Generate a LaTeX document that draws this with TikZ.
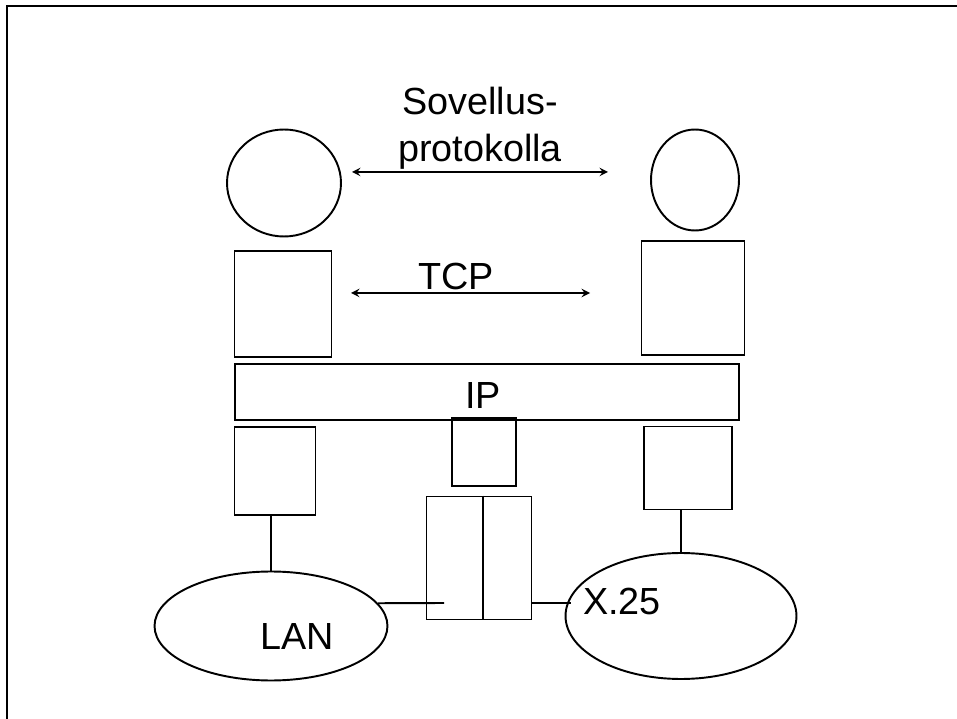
\documentclass[tikz,border=0pt]{standalone}
\usepackage{fontspec}
\setmainfont{Liberation Sans}
\usetikzlibrary{shapes.geometric}

\begin{document}
\begin{tikzpicture}
            [x=0.02cm, y=-0.02cm, >=stealth, line width=1.1pt,
             box/.style={shape=rectangle, draw=black, inner sep=0pt},
             oval/.style={shape=ellipse, draw=black, inner sep=0pt},
             lbl/.style={inner sep=0pt, font=\fontsize{21.5}{27}\selectfont}]
            \useasboundingbox (0,0) rectangle (957,719);
            \draw[line width=1.7pt] (7,6) rectangle (990,750);

            \node[oval, minimum width=2.28cm, minimum height=2.14cm] (lhost) at (284,183) {};
            \node[oval, minimum width=1.76cm, minimum height=2.02cm] (rhost) at (695,180) {};
            \node[box, minimum width=1.94cm, minimum height=2.12cm] (ltcp) at (283,304) {};
            \node[box, minimum width=2.06cm, minimum height=2.28cm] (rtcp) at (693,298) {};
            \node[box, minimum width=10.1cm, minimum height=1.12cm] (ipbar) at (487,392) {};
            \node[box, minimum width=1.62cm, minimum height=1.76cm] (lnet) at (275,471) {};
            \node[box, minimum width=1.28cm, minimum height=1.36cm] (gwip) at (484,452) {};
            \node[box, minimum width=2.1cm, minimum height=2.46cm] (gw) at (479,558) {};
            \node[box, minimum width=1.76cm, minimum height=1.66cm] (rnet) at (688,468) {};
            \node[oval, minimum width=4.66cm, minimum height=2.18cm] (lan) at (271,626) {};
            \node[oval, minimum width=4.62cm, minimum height=2.52cm] (x25) at (681,616) {};

            \node[lbl, align=center, anchor=north] (apptext) at (480,86) {Sovellus-\\protokolla};
            \node[lbl, anchor=base] (tcptext) at (456,290) {TCP};
            \node[lbl, anchor=base] (iptext) at (483,409) {IP};
            \node[lbl, anchor=base] (lantext) at (297,649) {LAN};
            \node[lbl, anchor=base] (x25text) at (622,614) {X.25};

            \coordinate (appL) at (352,172);
            \coordinate (appR) at (608,172);
            \coordinate (tcpL) at (351,293);
            \coordinate (tcpR) at (590,293);
            \coordinate (lanport) at (444,603);
            \coordinate (x25port) at (571,603);

            \draw[<->] (appL) -- (appR);
            \draw[<->] (tcpL) -- (tcpR);
            \draw ([xshift=0.08cm]gw.north) -- ([xshift=0.08cm]gw.south);
            \draw (lnet.south -| lan.north) -- (lan.north);
            \draw (x25.north |- rnet.south) -- (x25.north);
            \draw (lan.12) -- (lanport);
            \draw (gw.east |- x25port) -- (x25port);
        \end{tikzpicture}
\end{document}
